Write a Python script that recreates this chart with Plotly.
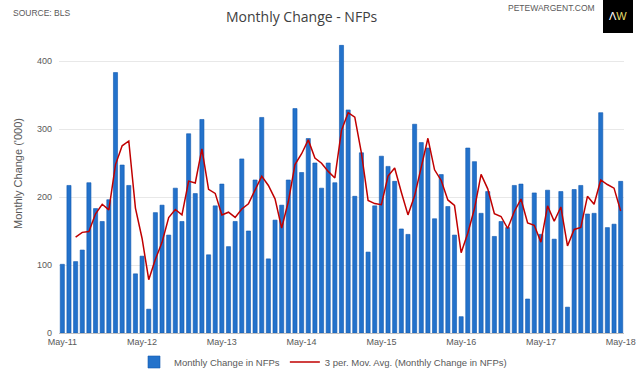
import pandas as pd
import plotly.graph_objects as go

months = [d.strftime("%b-%y") for d in pd.date_range("2011-05-01", periods=85, freq="MS")]
nfp_change = [
    101, 217, 105, 122, 221, 183, 164, 196, 383, 247, 217, 87,
    113, 35, 177, 188, 144, 213, 164, 293, 205, 314, 115, 187,
    219, 127, 164, 256, 150, 225, 317, 109, 166, 188, 225, 330,
    236, 286, 250, 213, 250, 221, 423, 328, 201, 265, 119, 187,
    260, 245, 223, 153, 145, 307, 280, 272, 168, 233, 186, 144,
    24, 272, 252, 176, 208, 142, 164, 155, 217, 219, 50, 206,
    145, 210, 138, 208, 38, 211, 217, 175, 176, 324, 155, 160,
    223,
]
tick_labels = ["May-11", "May-12", "May-13", "May-14", "May-15", "May-16", "May-17", "May-18"]

moving_avg = pd.Series(nfp_change).rolling(3).mean().tolist()

W, H = 640, 374
L, R, T, B = 59, 16, 27, 41


def px(x):
    return (x - L) / (W - L - R)


def py(y):
    return (H - B - y) / (H - T - B)


fig = go.Figure()
fig.add_trace(go.Bar(
    x=months, y=nfp_change, name="Monthly Change in NFPs",
    marker=dict(color="#2372CB", line=dict(color="#1159B0", width=0.6)),
    width=0.62,
))
fig.add_trace(go.Scatter(
    x=months, y=moving_avg, mode="lines",
    name="3 per. Mov. Avg. (Monthly Change in NFPs)",
    line=dict(color="#C00000", width=1.5),
))

fig.update_layout(
    width=W, height=H,
    margin=dict(l=L, r=R, t=T, b=B, autoexpand=False),
    paper_bgcolor="white", plot_bgcolor="white",
    font=dict(family="Liberation Sans, Arial, sans-serif", size=9, color="#595959"),
    showlegend=True,
    legend=dict(orientation="h", x=134 / W, xanchor="left", xref="container",
                y=1 - 362 / H, yanchor="middle", yref="container",
                font=dict(size=9.5, color="#595959"),
                itemwidth=30, tracegroupgap=0, bgcolor="rgba(0,0,0,0)"),
)
fig.update_xaxes(
    type="category", tickmode="array", tickvals=tick_labels, ticktext=tick_labels,
    tickangle=0, showgrid=False, showline=True, linecolor="#BFBFBF", linewidth=1,
    ticks="", automargin=False,
    tickfont=dict(size=9, color="#595959"), range=[-0.5, 84.5],
)
fig.update_yaxes(
    range=[0, 450], tickvals=[0, 100, 200, 300, 400], showgrid=True,
    gridcolor="#E8E8E8", gridwidth=1, zeroline=False, showline=False, automargin=False,
    tickfont=dict(size=9, color="#595959"), ticks="", ticklabelstandoff=6,
)

fig.add_annotation(text="Monthly Change ('000)", xref="paper", yref="paper",
                   x=px(18), y=py(174),
                   xanchor="center", yanchor="middle", textangle=-90, showarrow=False,
                   font=dict(size=11, color="#595959"))
fig.add_annotation(text="Monthly Change - NFPs", xref="paper", yref="paper",
                   x=px(302), y=py(17),
                   xanchor="center", yanchor="middle", showarrow=False,
                   font=dict(family="Open Sans, sans-serif", size=14, color="#404040"))
fig.add_annotation(text="SOURCE: BLS", xref="paper", yref="paper",
                   x=px(11), y=py(13),
                   xanchor="left", yanchor="middle", showarrow=False,
                   font=dict(size=8.5, color="#595959"))
fig.add_annotation(text="PETEWARGENT.COM", xref="paper", yref="paper",
                   x=px(597), y=py(8),
                   xanchor="right", yanchor="middle", showarrow=False,
                   font=dict(size=8.5, color="#595959"))
fig.add_shape(type="rect", xref="paper", yref="paper",
              x0=px(603), x1=px(633), y0=py(33), y1=py(0),
              fillcolor="black", line=dict(width=0))
fig.add_annotation(text="<span style='color:white'>Λ</span><span style='color:#E6DE6E'>W</span>",
                   xref="paper", yref="paper",
                   x=px(618), y=py(16),
                   xanchor="center", yanchor="middle", showarrow=False,
                   font=dict(size=11, color="white"))

fig.write_html("out.html", config={"displayModeBar": False},
               post_script="document.body.style.margin='0';")
